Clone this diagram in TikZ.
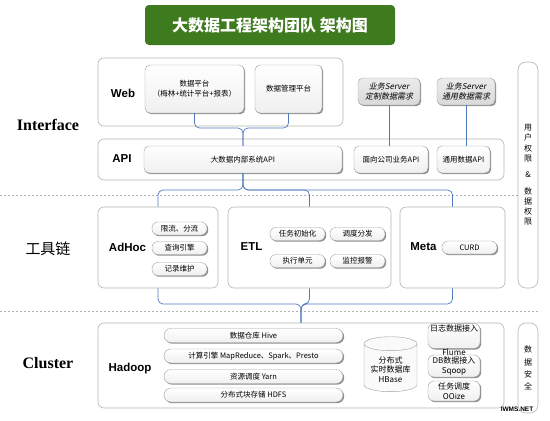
\documentclass[tikz,border=0pt]{standalone}
\usepackage{fontspec}
\setmainfont{Noto Sans CJK SC}
\newfontfamily\arialfont{Liberation Sans}
\newfontfamily\timesfont{Liberation Serif}
\newfontfamily\slantfont[FakeSlant=0.2]{Noto Sans CJK SC}
\usepackage{tikz}
\usetikzlibrary{shadows}
\usetikzlibrary{positioning}
\usetikzlibrary{shapes.geometric}
\usetikzlibrary{calc}
\definecolor{titlegreen}{RGB}{62,122,30}
\definecolor{framegray}{RGB}{178,184,170}
\definecolor{linkblue}{RGB}{80,120,190}
\tikzstyle{titlebox}=[fill=titlegreen, rounded corners=4pt, text=white, font=\bfseries\fontsize{16}{18}\selectfont]
\tikzstyle{group}=[draw=framegray, rounded corners=6pt, fill=white, line width=0.6pt]
\tikzstyle{card}=[draw=gray!75, rounded corners=5pt, top color=white, bottom color=gray!12, drop shadow={shadow xshift=1.2pt,shadow yshift=-1.2pt,fill=black!55,opacity=0.8}, align=center, font=\fontsize{7.5}{10}\selectfont, inner sep=1pt]
\tikzstyle{pill}=[card, rounded corners=6pt, minimum width=55pt, minimum height=13pt]
\tikzstyle{server}=[card, top color=gray!15, bottom color=gray!30, font=\slantfont\fontsize{8}{10}\selectfont]
\tikzstyle{grouptext}=[font=\arialfont\bfseries\fontsize{11.5}{12}\selectfont]
\tikzstyle{layertext}=[font=\timesfont\bfseries\fontsize{16}{18}\selectfont]
\tikzstyle{sidebox}=[draw=framegray, rounded corners=8pt, fill=white, line width=0.6pt, minimum width=20pt, align=center]
\tikzstyle{sep}=[draw=gray!60, dash pattern=on 2pt off 2pt, line width=0.6pt]
\tikzstyle{link}=[draw=linkblue, line width=0.7pt, rounded corners=5pt]

\begin{document}
\begin{tikzpicture}[x=1pt, y=-1pt]
\useasboundingbox (0,0) rectangle (550,421);

%title
\node[titlebox, minimum width=250pt, minimum height=40pt] (title) at (270,25) {大数据工程架构团队 架构图};

%layers
\coordinate (sepaL) at (0,195);  \coordinate (sepaR) at (540,195);
\coordinate (sepbL) at (0,311);  \coordinate (sepbR) at (540,311);
\draw[sep] (sepaL) -- (sepaR);
\draw[sep] (sepbL) -- (sepbR);
\node[layertext] (interface) at (48,125) {Interface};
\node[font=\fontsize{15}{16}\selectfont] (toolchain) at (48,249) {工具链};
\node[layertext] (clustertxt) at (48,363) {Cluster};

%Interface
\node[group, minimum width=245pt, minimum height=68pt] (web) at (220.5,92) {};
\node[group, minimum width=406pt, minimum height=41pt] (api) at (301,159.5) {};
\node[grouptext] (webtxt) at (123,93) {Web};
\node[grouptext] (apitxt) at (122,159) {API};
\node[card, minimum width=99pt, minimum height=48pt] (dp) at (194.5,89) {数据平台\\（梅林+统计平台+报表）};
\node[card, minimum width=67pt, minimum height=48pt] (dm) at (288.5,89) {数据管理平台};
\node[server, minimum width=62pt, minimum height=27pt] (s1) at (389,91.5) {业务Server\\定制数据需求};
\node[server, minimum width=58pt, minimum height=27pt] (s2) at (466,91.5) {业务Server\\通用数据需求};
\foreach \pos/\name/\w/\txt in {{(243,159.5)/inapi/198/大数据内部系统API}, {(391,159.5)/pubapi/74/面向公司业务API}, {(463.5,159.5)/genapi/53/通用数据API}}
    \node[card, minimum width=\w pt, minimum height=27pt] (\name) at \pos {\txt};

%permissions
\node[sidebox, minimum height=226pt, font=\fontsize{8}{10.3}\selectfont] (perm) at (528,175) {用\\户\\权\\限\\[6pt]\&\\[6pt]数\\据\\权\\限};
\node[sidebox, minimum height=90pt, font=\fontsize{8}{12.3}\selectfont] (safe) at (528,368) {数\\据\\安\\全};

%Tool chain
\foreach \pos/\name/\w in {{(158,247.5)/adhoc/120}, {(309.5,247.5)/etl/163}, {(452.5,247.5)/meta/105}}
    \node[group, minimum width=\w pt, minimum height=81pt] (\name) at \pos {};
\node[grouptext] (adhoctxt) at (127.5,247) {AdHoc};
\node[grouptext] (etltxt) at (251.5,247) {ETL};
\node[grouptext] (metatxt) at (423.5,247) {Meta};
\foreach \pos/\name/\txt in {{(179.5,228.5)/limit/限流、分流}, {(179.5,248)/query/查询引擎}, {(179.5,269)/record/记录维护},
    {(297.5,234)/init/任务初始化}, {(357.5,234)/dispatch/调度分发}, {(297.5,261)/exec/执行单元}, {(357.5,261)/alarm/监控报警},
    {(469.5,247.5)/curd/CURD}}
    \node[pill] (\name) at \pos {\txt};

%Cluster
\node[group, minimum width=406pt, minimum height=85pt] (cluster) at (301,365.5) {};
\node[grouptext] (hadooptxt) at (130,369) {Hadoop};
\foreach \pos/\name/\txt in {{(253.5,335.5)/hive/数据仓库 Hive}, {(253.5,356)/compute/计算引擎 MapReduce、Spark、Presto}, {(253.5,376.5)/yarn/资源调度 Yarn}, {(253.5,395)/hdfs/分布式块存储 HDFS}}
    \node[pill, minimum width=179pt, minimum height=14pt, rounded corners=7pt] (\name) at \pos {\txt};
\node[cylinder, shape border rotate=90, aspect=0.3, draw=gray!75, fill=gray!4, minimum width=53pt, minimum height=55pt, align=center, font=\fontsize{8}{9.5}\selectfont] (hbase) at (390.5,369.5) {分布式\\实时数据库\\HBase};
\node[pill, minimum width=52pt, minimum height=22pt, font=\fontsize{8}{10}\selectfont] (flume) at (454,336) {日志数据接入\\[6pt]};
\node[font=\fontsize{8}{10}\selectfont] (flumetxt) at (454,352) {Flume};
\node[pill, minimum width=52pt, minimum height=22pt, font=\fontsize{8}{9.5}\selectfont] (sqoop) at (454,366) {DB数据接入\\Sqoop};
\node[pill, minimum width=52pt, minimum height=20pt, font=\fontsize{8}{9.5}\selectfont] (oozie) at (454,391) {任务调度\\OOize};
\node[font=\arialfont\bfseries\fontsize{6.5}{7}\selectfont] (mark) at (517,409) {IWMS.NET};

%links
\coordinate (hubweb) at (243,128);
\coordinate (hubtool) at (243,190);
\coordinate (hubcluster) at (301,304);
\foreach \source in {dp, dm}
    \draw[link] (\source.south) |- (hubweb) -- (inapi.north);
\draw[link] (s1.south) -- (s1.south |- pubapi.north);
\draw[link] (s2.south) -- (s2.south |- genapi.north);
\foreach \dest in {adhoc, etl, meta}
    \draw[link] (inapi.south) -- (hubtool) -| (\dest.north);
\foreach \source in {adhoc, etl, meta}
    \draw[link] (\source.south) |- (hubcluster) -- (cluster.north);

\end{tikzpicture}
\end{document}
